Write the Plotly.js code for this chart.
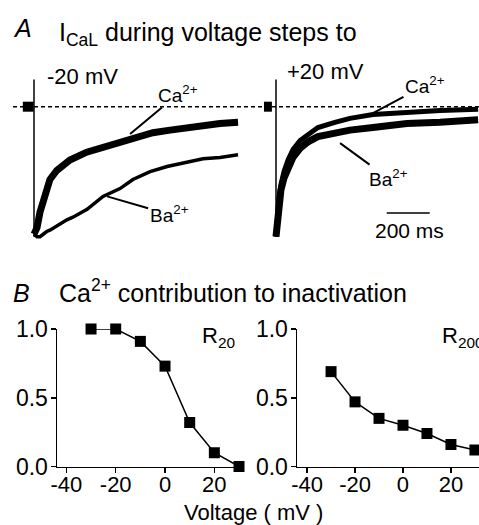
<!DOCTYPE html>
<html><head><meta charset="utf-8">
<script src="https://cdn.plot.ly/plotly-3.0.1.min.js"></script>
<style>html,body{margin:0;padding:0;background:#fff}#chart{width:479px;height:525px}</style>
</head><body><div id="chart"></div>
<script>
// ---------- DATA ----------
// Panel A: normalised I_CaL (I / I_peak) vs time after step onset (ms)
const preT_m20 = [-52, -2];
const preI_m20 = [0, 0];
const stepT = [0, 0];
const stepI = [0.21, -1.0];

const caT_m20 = [0, 14, 28, 43, 59, 74, 106, 135, 167, 245, 321, 400, 479, 553, 633, 712, 786, 865, 949];
const caI_m20 = [-0.98, -0.93, -0.81, -0.72, -0.63, -0.56, -0.49, -0.45, -0.41, -0.35, -0.31, -0.27, -0.23, -0.2, -0.18, -0.16, -0.15, -0.13, -0.12];
const baT_m20 = [0, 14, 28, 59, 74, 121, 153, 181, 247, 321, 400, 460, 540, 619, 712, 786, 865, 949];
const baI_m20 = [-0.98, -1.0, -1.0, -0.96, -0.95, -0.9, -0.87, -0.85, -0.79, -0.69, -0.63, -0.56, -0.5, -0.46, -0.43, -0.4, -0.39, -0.37];

const preT_p20 = [-56, -19];
const preI_p20 = [0, 0];
const caT_p20 = [0, 7, 14, 23, 37, 56, 79, 112, 149, 195, 274, 344, 451, 609, 763, 940];
const caI_p20 = [-1.0, -0.83, -0.7, -0.6, -0.5, -0.41, -0.33, -0.26, -0.21, -0.16, -0.12, -0.09, -0.06, -0.04, -0.03, -0.02];
const baT_p20 = [0, 7, 14, 23, 37, 56, 79, 112, 149, 195, 274, 344, 451, 609, 763, 940];
const baI_p20 = [-1.0, -0.87, -0.74, -0.64, -0.55, -0.46, -0.39, -0.32, -0.27, -0.23, -0.2, -0.18, -0.16, -0.13, -0.12, -0.1];
const scaleBarMs = 200;

// Panel B: Ca2+ contribution to inactivation
const voltage = [-30, -20, -10, 0, 10, 20, 30];
const r20 = [1.0, 1.0, 0.91, 0.73, 0.32, 0.1, 0.0];
const r200 = [0.69, 0.47, 0.35, 0.3, 0.24, 0.16, 0.12];
const xTicks = [-40, -20, 0, 20];
const yTicks = [0, 0.5, 1];
const yTickText = ['0.0', '0.5', '1.0'];

// ---------- LAYOUT HELPERS ----------
const W = 479, H = 525;
const px = x => x / W;
const py = y => 1 - y / H;
const FONT = 'Liberation Sans, Arial, Helvetica, sans-serif';
const K = '#000';

function line(x, y, xa, ya, w) {
  return {x, y, xaxis: xa, yaxis: ya, type: 'scatter', mode: 'lines',
          line: {color: K, width: w}, hoverinfo: 'skip'};
}

const traces = [
  line(preT_m20, preI_m20, 'x', 'y', 10),
  line(stepT, stepI, 'x', 'y', 1.5),
  line(caT_m20, caI_m20, 'x', 'y', 7),
  line(baT_m20, baI_m20, 'x', 'y', 3.5),
  line(preT_p20, preI_p20, 'x2', 'y2', 10),
  line(stepT, stepI, 'x2', 'y2', 1.5),
  line(baT_p20, baI_p20, 'x2', 'y2', 7),
  line(caT_p20, caI_p20, 'x2', 'y2', 5),
  {x: voltage, y: r20, xaxis: 'x3', yaxis: 'y3', type: 'scatter', mode: 'lines+markers',
   line: {color: K, width: 1.5}, marker: {symbol: 'square', size: 11, color: K}, cliponaxis: false},
  {x: voltage, y: r200, xaxis: 'x4', yaxis: 'y4', type: 'scatter', mode: 'lines+markers',
   line: {color: K, width: 1.5}, marker: {symbol: 'square', size: 11, color: K}, cliponaxis: false}
];

const hidden = {visible: false, fixedrange: true};
const pxPerMs = 0.215;
const yA = {...hidden, domain: [py(250), py(60)], range: [(106.7 - 250) / 130, (106.7 - 60) / 130]};

function bx(d0, d1, r) {
  return {domain: [px(d0), px(d1)], range: r, showgrid: false, zeroline: false,
          showline: true, linecolor: K, linewidth: 1.5, ticks: 'outside', ticklen: 5,
          tickwidth: 1.5, tickcolor: K, tickvals: xTicks, ticktext: xTicks.map(String),
          ticklabelstandoff: -7,
          tickfont: {family: FONT, size: 22, color: K}};
}
function by(anchor) {
  return {domain: [py(466.5), py(329)], range: [0, 1], anchor, showgrid: false, zeroline: false,
          showline: true, linecolor: K, linewidth: 1.5, ticks: 'outside', ticklen: 5,
          tickwidth: 1.5, tickcolor: K, tickvals: yTicks, ticktext: yTickText,
          ticklabelstandoff: -2,
          tickfont: {family: FONT, size: 23, color: K}};
}

function txt(text, x, y, size, xanchor = 'left', extra = {}) {
  return Object.assign({text, xref: 'paper', yref: 'paper', x: px(x), y: py(y), xanchor, yanchor: 'middle',
    showarrow: false, font: {family: FONT, size, color: K}}, extra);
}
function pointer(text, xa, ya, x, y, ax, ay) {
  return {text, xref: xa, yref: ya, x, y, ax, ay, showarrow: true, arrowhead: 0, arrowwidth: 2,
          arrowcolor: K, standoff: 0, font: {family: FONT, size: 19, color: K}};
}

const layout = {
  width: W, height: H, margin: {l: 0, r: 0, t: 0, b: 0},
  paper_bgcolor: '#fff', plot_bgcolor: 'rgba(0,0,0,0)', showlegend: false,
  xaxis: {...hidden, domain: [0, px(240)], range: [-34 / pxPerMs, (240 - 34) / pxPerMs], anchor: 'y'},
  yaxis: {...yA, anchor: 'x'},
  xaxis2: {...hidden, domain: [px(240), 1], range: [-36 / pxPerMs, (479 - 276) / pxPerMs], anchor: 'y2'},
  yaxis2: {...yA, anchor: 'x2'},
  xaxis3: {...bx(57, 240, [-43.8, 30.4]), anchor: 'y3'},
  yaxis3: by('x3'),
  xaxis4: {...bx(297, 479, [-44.2, 31.7]), anchor: 'y4'},
  yaxis4: by('x4'),
  shapes: [
    {type: 'line', xref: 'paper', yref: 'y', x0: px(13), x1: 1, y0: 0, y1: 0,
     line: {color: K, width: 1.5, dash: '4px,3px'}},
    {type: 'line', xref: 'x2', yref: 'y2', x0: 515, x1: 515 + scaleBarMs, y0: -0.818, y1: -0.818,
     line: {color: K, width: 1.5}}
  ],
  annotations: [
    txt('<i>A</i>', 11, 28, 25),
    txt('I<sub>CaL</sub> during voltage steps to', 57, 34, 25),
    txt('-20 mV', 45, 76, 22),
    txt('+20 mV', 285, 72, 22),
    pointer('Ca<sup>2+</sup>', 'x', 'y', 447, -0.21, 48, -40),
    pointer('Ba<sup>2+</sup>', 'x', 'y', 340, -0.69, 62, 18),
    pointer('Ca<sup>2+</sup>', 'x2', 'y2', 451, -0.05, 52, -28),
    pointer('Ba<sup>2+</sup>', 'x2', 'y2', 298, -0.28, 48, 35),
    txt(scaleBarMs + ' ms', 409, 230, 21, 'center'),
    txt('<i>B</i>', 11, 293, 25),
    txt('Ca<sup>2+</sup> contribution to inactivation', 57, 291, 25),
    txt('R<sub>20</sub>', 200, 337, 22),
    txt('R<sub>200</sub>', 440, 337, 22),
    txt('Voltage ( mV )', 253, 512, 22, 'center')
  ]
};

Plotly.newPlot('chart', traces, layout, {staticPlot: true, displayModeBar: false});
</script>
</body></html>
